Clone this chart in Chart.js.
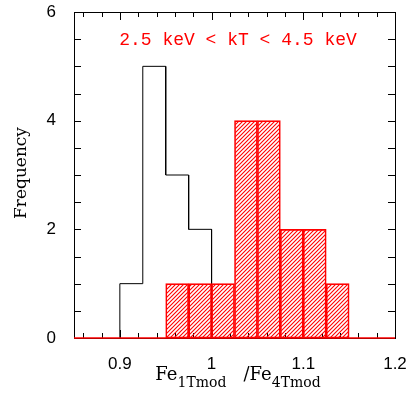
<!DOCTYPE html>
<html><head><meta charset="utf-8">
<script src="https://cdn.jsdelivr.net/npm/chart.js@4.4.0/dist/chart.umd.min.js"></script>
<style>html,body{margin:0;padding:0;background:#fff;}#wrap{width:409px;height:404px;}</style>
</head><body><div id="wrap"><canvas id="c" width="409" height="404"></canvas></div>
<script>
const blackEdges = [0.9, 0.925, 0.95, 0.975, 1.0];
const blackCounts = [1, 5, 3, 2];
const redEdges = [0.95, 0.975, 1.0, 1.025, 1.05, 1.075, 1.1, 1.125, 1.15];
const redCounts = [1, 1, 1, 4, 4, 2, 2, 1];
const xRange = [0.85, 1.2];
const yRange = [0, 6];
const xTickLabels = [0.9, 1.0, 1.1, 1.2];
const yTickLabels = [0, 2, 4, 6];
const xMinorStep = 0.02, xMajorStep = 0.1, yMinorStep = 0.5;
const annotation = '2.5 keV < kT < 4.5 keV';
const yTitle = 'Frequency';
const xTitleParts = [['Fe', false], ['1Tmod', true], ['   /Fe', false], ['4Tmod', true]];

function stepPoints(edges, counts) {
  const pts = [{x: edges[0], y: 0}];
  counts.forEach((c, i) => { pts.push({x: edges[i], y: c}); pts.push({x: edges[i + 1], y: c}); });
  pts.push({x: edges[edges.length - 1], y: 0});
  return pts;
}
function hatch(ctx) {
  const s = 4;
  const cv = document.createElement('canvas'); cv.width = s; cv.height = s;
  const g = cv.getContext('2d');
  g.strokeStyle = '#ff0000'; g.lineWidth = 1.1;
  g.beginPath();
  g.moveTo(0, s); g.lineTo(s, 0);
  g.moveTo(-1, 1); g.lineTo(1, -1);
  g.moveTo(s - 1, s + 1); g.lineTo(s + 1, s - 1);
  g.stroke();
  return ctx.createPattern(cv, 'repeat');
}
const canvas = document.getElementById('c');
const ctx0 = canvas.getContext('2d');
const redBars = redCounts.map((c, i) => ({x: (redEdges[i] + redEdges[i + 1]) / 2, y: c}));

function zeroPad(s) { s.paddingLeft = 0; s.paddingRight = 0; s.paddingTop = 0; s.paddingBottom = 0; }

const framePlugin = {
  id: 'frame',
  beforeDatasetsDraw(chart) {
    const {ctx, chartArea: a, scales: {x, y}} = chart;
    ctx.save();
    ctx.strokeStyle = '#000'; ctx.lineWidth = 1;
    ctx.strokeRect(Math.round(a.left) + 0.5, Math.round(a.top) + 0.5, Math.round(a.right - a.left), Math.round(a.bottom - a.top));
    ctx.beginPath();
    const k0 = Math.ceil(xRange[0] / xMinorStep - 1e-6), k1 = Math.floor(xRange[1] / xMinorStep + 1e-6);
    for (let k = k0; k <= k1; k++) {
      const v = k * xMinorStep;
      const r = v / xMajorStep;
      const major = Math.abs(r - Math.round(r)) < 1e-6;
      const len = major ? 8 : 5;
      const px = Math.round(x.getPixelForValue(v)) + 0.5;
      ctx.moveTo(px, a.bottom); ctx.lineTo(px, a.bottom - len);
      ctx.moveTo(px, a.top); ctx.lineTo(px, a.top + len);
    }
    for (let v = yRange[0]; v <= yRange[1] + 1e-9; v += yMinorStep) {
      const py = Math.round(y.getPixelForValue(v)) + 0.5;
      ctx.moveTo(a.left, py); ctx.lineTo(a.left + 7, py);
      ctx.moveTo(a.right, py); ctx.lineTo(a.right - 7, py);
    }
    ctx.stroke();
    ctx.restore();
  },
  afterDraw(chart) {
    const {ctx, chartArea: a} = chart;
    ctx.save();
    ctx.fillStyle = '#ff0000';
    ctx.font = '18px "Liberation Mono"';
    ctx.textAlign = 'center'; ctx.textBaseline = 'alphabetic';
    ctx.fillText(annotation, 238, 45);
    ctx.fillStyle = '#000';
    ctx.font = '17px "DejaVu Serif"';
    ctx.translate(26, (a.top + a.bottom) / 2 - 2);
    ctx.rotate(-Math.PI / 2);
    ctx.fillText(yTitle, 0, 0);
    ctx.restore();
    ctx.save();
    ctx.fillStyle = '#000';
    ctx.textAlign = 'left'; ctx.textBaseline = 'alphabetic';
    const fontMain = '18px "DejaVu Serif"', fontSub = '14px "DejaVu Serif"';
    let total = 0;
    const widths = xTitleParts.map(([t, sub]) => { ctx.font = sub ? fontSub : fontMain; const w = ctx.measureText(t).width; total += w; return w; });
    let xx = 238 - total / 2;
    xTitleParts.forEach(([t, sub], i) => {
      ctx.font = sub ? fontSub : fontMain;
      ctx.fillText(t, xx, sub ? 387 : 380);
      xx += widths[i];
    });
    ctx.restore();
  }
};

new Chart(canvas, {
  type: 'bar',
  data: {
    datasets: [
      {type: 'line', data: stepPoints(blackEdges, blackCounts), borderColor: '#000', borderWidth: 1, pointRadius: 0, tension: 0, fill: false, order: 3, clip: 3},
      {type: 'bar', data: redBars, backgroundColor: hatch(ctx0), borderColor: '#ff0000', borderWidth: 1, borderSkipped: false, barPercentage: 1, categoryPercentage: 1, order: 2},
      {type: 'line', data: [{x: xRange[0], y: 0}, {x: xRange[1], y: 0}], borderColor: '#ff0000', borderWidth: 1.5, pointRadius: 0, fill: false, order: 1, clip: 3}
    ]
  },
  options: {
    responsive: false, animation: false, devicePixelRatio: 1,
    layout: {padding: {left: 0, top: 12, right: 14, bottom: 0}},
    plugins: {legend: {display: false}, tooltip: {enabled: false}},
    scales: {
      x: {
        type: 'linear', min: xRange[0], max: xRange[1], offset: false,
        grid: {display: false}, border: {display: false},
        afterBuildTicks: s => { s.ticks = xTickLabels.map(v => ({value: v})); },
        afterFit: s => { s.height = 66; zeroPad(s); },
        ticks: {color: '#000', font: {family: 'Liberation Sans', size: 17}, padding: 8, maxRotation: 0, autoSkip: false,
          callback: v => String(Number(v.toFixed(3)))}
      },
      y: {
        type: 'linear', min: yRange[0], max: yRange[1],
        grid: {display: false}, border: {display: false},
        afterBuildTicks: s => { s.ticks = yTickLabels.map(v => ({value: v})); },
        afterFit: s => { s.width = 74; zeroPad(s); },
        ticks: {color: '#000', font: {family: 'Liberation Sans', size: 17}, padding: 10,
          callback: v => String(v)}
      }
    }
  },
  plugins: [framePlugin]
});
</script>
</body></html>
